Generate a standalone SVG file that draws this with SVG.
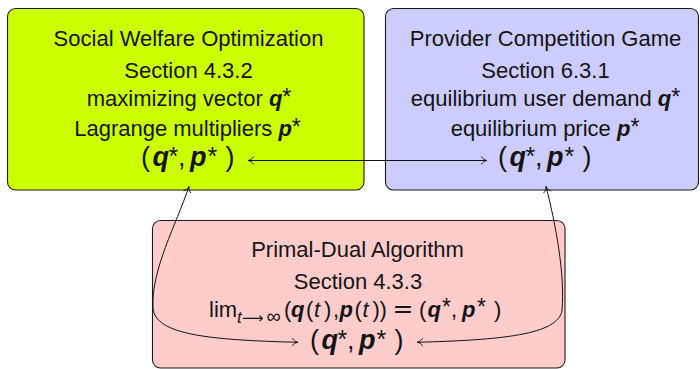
<svg xmlns="http://www.w3.org/2000/svg" width="700" height="369" viewBox="0 0 700 369">
  <defs>
    <style>
      .box { stroke: #1c1c1c; stroke-width: 1.1; }
      .txt { font-family: "Liberation Sans", Arial, sans-serif; font-size: 22px; fill: #141414; }
      .c { text-anchor: middle; }
      .v { font-weight: bold; font-style: italic; }
      .ast { font-size: 23px; }
      .bast { font-size: 25px; }
      .big { font-size: 27px; }
      .it { font-style: italic; }
      .sub { font-size: 17px; }
      .rel { font-family: "DejaVu Sans", sans-serif; }
      .conn { fill: none; stroke: #111; stroke-width: 1; }
    </style>
    <marker id="tip" viewBox="-7 -5 9 10" refX="0" refY="0" markerWidth="9" markerHeight="10" markerUnits="userSpaceOnUse" orient="auto-start-reverse">
      <path d="M -5.5,-3.6 C -4.2,-1.4 -2.2,-0.4 0,0 C -2.2,0.4 -4.2,1.4 -5.5,3.6" fill="none" stroke="#111" stroke-width="0.9" stroke-linecap="round"/>
    </marker>
  </defs>

  <!-- Social welfare optimization -->
  <g id="social-welfare">
    <rect class="box" x="7.5" y="8.5" width="356.5" height="181.5" rx="8" fill="#ccff00"/>
    <text class="txt c" x="188.5" y="45.5">Social Welfare Optimization</text>
    <text class="txt c" x="188.5" y="77.5">Section 4.3.2</text>
    <text class="txt c" x="189" y="106">maximizing vector <tspan class="v">q</tspan><tspan class="ast" dy="-1">*</tspan></text>
    <text class="txt c" x="187.5" y="136">Lagrange multipliers <tspan class="v">p</tspan><tspan class="ast" dy="-1">*</tspan></text>
    <text class="txt big"><tspan x="141" y="166">(</tspan><tspan class="v" x="152.5" y="166">q</tspan><tspan class="bast" x="168.5" y="164.5">*</tspan><tspan x="178" y="166">,</tspan><tspan class="v" x="190" y="166">p</tspan><tspan class="bast" x="207.5" y="164.5">*</tspan><tspan x="225.5" y="166">)</tspan></text>
  </g>

  <!-- Provider competition game -->
  <g id="provider-game">
    <rect class="box" x="385.5" y="8.5" width="313" height="181.5" rx="8" fill="#ccccff"/>
    <text class="txt c" x="545.5" y="45.5">Provider Competition Game</text>
    <text class="txt c" x="545.5" y="77.5">Section 6.3.1</text>
    <text class="txt c" x="545.5" y="106">equilibrium user demand <tspan class="v">q</tspan><tspan class="ast" dy="-1">*</tspan></text>
    <text class="txt c" x="545" y="136">equilibrium price <tspan class="v">p</tspan><tspan class="ast" dy="-1">*</tspan></text>
    <text class="txt big"><tspan x="498" y="166">(</tspan><tspan class="v" x="509.5" y="166">q</tspan><tspan class="bast" x="525.5" y="164.5">*</tspan><tspan x="535" y="166">,</tspan><tspan class="v" x="547" y="166">p</tspan><tspan class="bast" x="564.5" y="164.5">*</tspan><tspan x="582.5" y="166">)</tspan></text>
  </g>

  <!-- Primal-dual algorithm -->
  <g id="primal-dual">
    <rect class="box" x="152.5" y="220.5" width="412.5" height="147.5" rx="8" fill="#ffcccc"/>
    <text class="txt c" x="357.5" y="256.5">Primal-Dual Algorithm</text>
    <text class="txt c" x="358" y="289">Section 4.3.3</text>
    <text class="txt"><tspan x="209" y="317">lim</tspan><tspan class="sub it" x="237" y="322.5">t</tspan><tspan class="rel" x="242" y="322.5" font-size="15">⟶</tspan><tspan x="266.5" y="322.5" font-size="20">∞</tspan><tspan x="284" y="317">(</tspan><tspan class="v" x="291" y="317">q</tspan><tspan x="306" y="317">(</tspan><tspan class="it" x="314" y="317">t</tspan><tspan x="324" y="317">)</tspan><tspan x="333" y="317">,</tspan><tspan class="v" x="339.5" y="317">p</tspan><tspan x="354.5" y="317">(</tspan><tspan class="it" x="362.5" y="317">t</tspan><tspan x="372.5" y="317">)</tspan><tspan x="379.5" y="317">)</tspan><tspan class="rel" x="392.5" y="317" font-size="25">=</tspan><tspan x="419" y="317">(</tspan><tspan class="v" x="427.5" y="317">q</tspan><tspan class="ast" x="442" y="315">*</tspan><tspan x="451" y="317">,</tspan><tspan class="v" x="462" y="317">p</tspan><tspan class="ast" x="477" y="315">*</tspan><tspan x="494" y="317">)</tspan></text>
    <text class="txt big"><tspan x="310" y="349">(</tspan><tspan class="v" x="321.5" y="349">q</tspan><tspan class="bast" x="337.5" y="347.5">*</tspan><tspan x="347" y="349">,</tspan><tspan class="v" x="359" y="349">p</tspan><tspan class="bast" x="376.5" y="347.5">*</tspan><tspan x="394.5" y="349">)</tspan></text>
  </g>

  <!-- Connectors between the three result tuples -->
  <g id="connectors" class="conn">
    <path d="M 248,160.5 L 487,160.5" marker-start="url(#tip)" marker-end="url(#tip)"/>
    <path d="M 298,342.3 C 210,340 155,335 153,308 C 151,270 176,225 189,186.5" marker-start="url(#tip)" marker-end="url(#tip)"/>
    <path d="M 417,342.3 C 500,340 559,335 562,310 C 565,275 556,225 546,186.5" marker-start="url(#tip)" marker-end="url(#tip)"/>
  </g>
</svg>
